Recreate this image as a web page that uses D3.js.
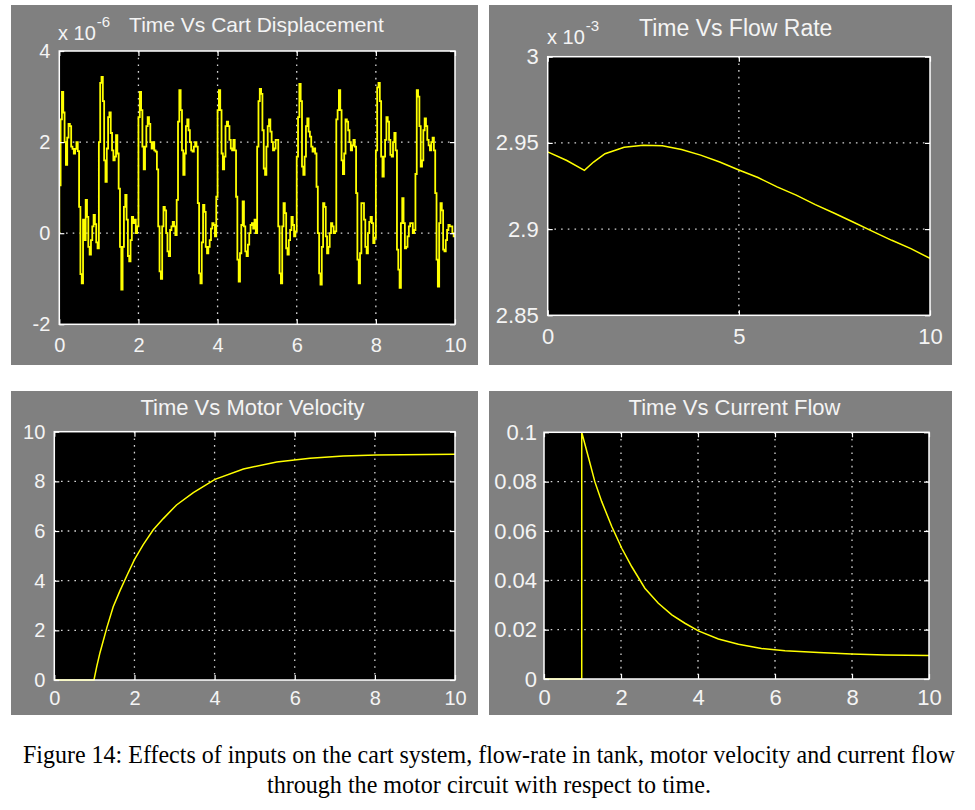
<!DOCTYPE html>
<html>
<head>
<meta charset="utf-8">
<script src="https://cdn.jsdelivr.net/npm/d3@7"></script>
<style>
  html, body { margin: 0; padding: 0; background: #ffffff; }
  svg { display: block; }
</style>
</head>
<body>
<svg id="fig" width="975" height="810"></svg>
<script>
// ---------------- DATA ----------------
// Cart displacement (x 1e-6), sampled every 1/30 s, read period by period (t = 0..10 s)
const cartSampleStep = 1 / 30;
const cartInitial = 0;
const cartDisplacement = [
  // 0 - 1 s
  1.05, 2.5, 3.1, 2.65, 2.0, 1.5, 2.1, 2.4, 2.35, 1.9, 1.85, 1.75, 1.85, 2.0, 1.8,
  0.58, -0.9, -1.1, 0.3, -0.15, 0.73, 0.36, -0.3, -0.47, -0.15, 0.15, 0.4, 0.2, -0.2, -0.33,
  // 1 - 2 s
  2.0, 3.3, 3.43, 2.9, 1.6, 1.13, 1.86, 2.55, 2.65, 2.2, 1.82, 1.6, 1.68, 2.15, 1.75,
  0.98, -0.3, -1.24, -0.3, 0.58, 0.84, 0.3, -0.5, -0.62, -0.15, 0.36, 0.22, 0.3, 0, 0.15,
  // 2 - 3 s
  2.55, 3.1, 2.7, 1.9, 1.4, 1.9, 2.35, 2.55, 2.4, 2.0, 1.86, 2.0, 1.82, 1.79, 1.4,
  0.15, -0.84, -1.0, 0.15, 0.58, 0.5, 0, -0.4, -0.5, 0.07, 0.15, 0.25, 0.15, -0.04, 0.73,
  // 3 - 4 s
  2.45, 3.14, 2.7, 1.82, 1.28, 1.75, 2.35, 2.5, 2.26, 2.0, 1.82, 1.79, 1.9, 2.0, 1.9,
  0.66, -0.88, -1.1, -0.2, 0.62, 0.47, -0.3, -0.44, -0.3, -0.15, 0.1, 0.22, 0.18, -0.07, 0.8,
  // 4 - 5 s
  2.7, 3.14, 2.7, 1.75, 1.4, 1.68, 2.35, 2.45, 2.35, 2.05, 1.86, 1.82, 2.05, 1.82, 0.8,
  -0.58, -1.06, -0.44, 0.18, 0.7, 0.15, -0.4, -0.5, -0.25, 0, 0.18, 0.22, 0.1, 0.3, 0.0,
  // 5 - 6 s
  1.9, 2.9, 3.17, 3.06, 2.26, 1.42, 1.28, 1.9, 2.35, 2.5, 2.23, 2.0, 1.82, 1.86, 2.05,
  2.05, 0.15, -0.88, -1.1, 0.15, 0.66, 0.44, -0.33, -0.47, -0.15, 0.07, 0.36, 0.18, -0.07, 0.04,
  // 6 - 7 s
  1.68, 2.55, 3.28, 2.9, 1.46, 1.28, 1.68, 2.35, 2.52, 2.23, 2.12, 1.9, 1.79, 1.86, 1.75,
  1.02, 0, -0.88, -1.13, -0.3, 0.66, 0.58, -0.07, -0.44, -0.3, 0, 0.22, 0.15, 0, 0.04,
  // 7 - 8 s
  2.5, 2.7, 3.14, 2.7, 1.6, 1.3, 1.75, 2.5, 2.45, 2.26, 2.0, 1.82, 1.93, 2.05, 1.9,
  0.88, -0.58, -1.1, -0.44, 0.66, 0.66, 0.3, -0.3, -0.44, 0, 0.25, 0.36, 0.22, -0.22, -0.1,
  // 8 - 9 s
  1.82, 3.2, 3.3, 2.9, 1.68, 1.24, 1.68, 2.05, 2.55, 2.45, 2.05, 1.72, 1.68, 2.0, 2.2,
  1.82, -0.36, -0.8, -1.2, 0.22, 0.77, 0.22, -0.33, -0.3, -0.07, 0.15, 0.22, 0.22, 0, 0.07,
  // 9 - 10 s
  1.3, 3.14, 3.0, 2.35, 1.46, 1.6, 2.26, 2.52, 2.35, 2.05, 1.93, 1.82, 2.0, 2.1, 1.82,
  0.88, -0.58, -1.17, 0.22, 0.66, 0.5, -0.36, -0.4, -0.15, 0.07, 0.18, 0.15, 0.15, 0, -0.07
];

// Flow rate (x 1e-3)
const flowTime = [0, 0.5, 0.96, 1.2, 1.5, 2.0, 2.5, 3.0, 3.5, 4.0, 4.5, 5.0, 5.5, 6.0, 6.5, 7.0, 7.5, 8.0, 8.5, 9.0, 9.5, 10];
const flowRate = [2.9448, 2.9398, 2.9341, 2.9389, 2.9437, 2.9475, 2.9487, 2.9483, 2.9462, 2.9429, 2.9389,
                  2.9343, 2.9299, 2.9245, 2.9197, 2.9142, 2.9092, 2.9040, 2.8987, 2.8935, 2.8887, 2.8830];

// Motor velocity
const velocityTime = [0, 0.99, 1.06, 1.14, 1.31, 1.47, 1.64, 1.81, 2.0, 2.22, 2.47, 2.72, 3.05, 3.47, 4.01, 4.72, 5.55, 6.38, 7.21, 8.04, 10];
const motorVelocity = [0, 0, 0.55, 1.1, 2.1, 2.95, 3.6, 4.2, 4.85, 5.45, 6.05, 6.5, 7.05, 7.55, 8.08, 8.5, 8.78, 8.93, 9.02, 9.06, 9.09];

// Current flow
const currentTime = [0, 0.98, 0.98, 1.15, 1.32, 1.5, 1.76, 2.02, 2.28, 2.62, 2.97, 3.32, 3.66, 4.01, 4.53, 5.05, 5.65, 6.26, 7.13, 7.99, 8.86, 10];
const currentFlow = [0, 0, 0.1, 0.0901, 0.08, 0.0719, 0.0618, 0.053, 0.0455, 0.0368, 0.0307, 0.026, 0.0226, 0.0195,
                     0.0162, 0.0141, 0.0124, 0.0115, 0.0107, 0.0101, 0.0097, 0.0095];

// Ticks and labels
const cartXTicks = [0, 2, 4, 6, 8, 10];
const cartYTicks = [-2, 0, 2, 4];
const flowXTicks = [0, 5, 10];
const flowYTicks = [2.85, 2.9, 2.95, 3];
const velXTicks = [0, 2, 4, 6, 8, 10];
const velYTicks = [0, 2, 4, 6, 8, 10];
const curXTicks = [0, 2, 4, 6, 8, 10];
const curYTicks = [0, 0.02, 0.04, 0.06, 0.08, 0.1];

const titles = ["Time Vs Cart Displacement", "Time Vs Flow Rate", "Time Vs Motor Velocity", "Time Vs Current Flow"];
const exponents = ["-6", "-3"];
const captionLines = [
  "Figure 14: Effects of inputs on the cart system, flow-rate in tank, motor velocity and current flow",
  "through the motor circuit with respect to time."
];

// ---------------- DRAWING ----------------
const svg = d3.select("#fig");
const SANS = "'Liberation Sans', Arial, Helvetica, sans-serif";
const TXT = "#f4f4f4";

function drawPanel(o, idx) {
  const g = svg.append("g");
  g.append("rect").attr("x", o.bg[0]).attr("y", o.bg[1]).attr("width", o.bg[2]).attr("height", o.bg[3])
    .attr("fill", "#808080");

  const x = d3.scaleLinear().domain(o.xDomain).range([o.plot.l, o.plot.r]);
  const y = d3.scaleLinear().domain(o.yDomain).range([o.plot.b, o.plot.t]);

  g.append("rect").attr("x", o.plot.l).attr("y", o.plot.t)
    .attr("width", o.plot.r - o.plot.l).attr("height", o.plot.b - o.plot.t).attr("fill", "#000");

  // grid (dotted)
  const gridStyle = sel => sel.attr("stroke", "#d4d4d4").attr("stroke-width", 1.3)
    .attr("stroke-dasharray", "1.6,5.1").attr("fill", "none");
  const dx = x.domain(), dy = y.domain();
  g.append("g").selectAll("line").data(o.xTicks.filter(v => v > dx[0] && v < dx[1])).join("line")
    .attr("x1", d => x(d)).attr("x2", d => x(d)).attr("y1", o.plot.t).attr("y2", o.plot.b).call(gridStyle);
  g.append("g").selectAll("line").data(o.yTicks.filter(v => v > dy[0] && v < dy[1])).join("line")
    .attr("x1", o.plot.l).attr("x2", o.plot.r).attr("y1", d => y(d)).attr("y2", d => y(d)).call(gridStyle);

  // series
  const clipId = "clip" + idx;
  g.append("clipPath").attr("id", clipId).append("rect")
    .attr("x", o.plot.l).attr("y", o.plot.t - 1).attr("width", o.plot.r - o.plot.l).attr("height", o.plot.b - o.plot.t + 2);
  const line = d3.line().x(d => x(d[0])).y(d => y(d[1])).curve(o.curve || d3.curveLinear);
  g.append("path").datum(o.points).attr("d", line).attr("fill", "none")
    .attr("stroke", "#ffff00").attr("stroke-width", o.lineWidth || 1.5).attr("stroke-linejoin", "miter")
    .attr("clip-path", `url(#${clipId})`);

  // axes
  const styleAxis = (sel, fs) => {
    sel.select(".domain").remove();
    sel.selectAll(".tick line").attr("stroke", "#ffffff").attr("stroke-width", 1.2);
    sel.selectAll(".tick text").attr("fill", TXT).style("font-family", SANS).style("font-size", fs + "px");
  };
  g.append("g").attr("transform", `translate(0,${o.plot.b})`)
    .call(d3.axisBottom(x).tickValues(o.xTicks).tickFormat(o.xFormat).tickSize(-5).tickPadding(o.xPad))
    .call(s => styleAxis(s, o.tickFont));
  g.append("g").attr("transform", `translate(${o.plot.l},0)`)
    .call(d3.axisLeft(y).tickValues(o.yTicks).tickFormat(o.yFormat).tickSize(-5).tickPadding(o.yPad))
    .call(s => styleAxis(s, o.tickFont));
  g.append("g").attr("transform", `translate(0,${o.plot.t})`)
    .call(d3.axisTop(x).tickValues(o.xTicks).tickFormat("").tickSize(-5))
    .call(s => styleAxis(s, o.tickFont));
  g.append("g").attr("transform", `translate(${o.plot.r},0)`)
    .call(d3.axisRight(y).tickValues(o.yTicks).tickFormat("").tickSize(-5))
    .call(s => styleAxis(s, o.tickFont));

  // box
  g.append("rect").attr("x", o.plot.l).attr("y", o.plot.t)
    .attr("width", o.plot.r - o.plot.l).attr("height", o.plot.b - o.plot.t)
    .attr("fill", "none").attr("stroke", "#ffffff").attr("stroke-width", 1.5);

  // title
  g.append("text").attr("x", o.title.x).attr("y", o.title.y).attr("text-anchor", "middle")
    .attr("fill", TXT).style("font-family", SANS).style("font-size", o.title.fs + "px").text(o.title.text);

  // exponent
  if (o.exp) {
    const t = g.append("text").attr("x", o.exp.x).attr("y", o.exp.y).attr("fill", TXT)
      .style("font-family", SANS).style("font-size", "20px");
    t.append("tspan").text("x 10");
    t.append("tspan").attr("dx", 1).attr("dy", -13).style("font-size", "15px").text(o.exp.text);
  }
}

const fmtPlain = d => String(d);

const cartPoints = [[0, cartInitial]].concat(cartDisplacement.map((v, i) => [i * cartSampleStep, v]));
cartPoints.push([10, cartDisplacement[cartDisplacement.length - 1]]);

drawPanel({
  bg: [11, 5, 467, 360],
  plot: { l: 59.3, r: 455, t: 51, b: 324.3 },
  xDomain: [0, 10], yDomain: [-2, 4],
  xTicks: cartXTicks, yTicks: cartYTicks, xFormat: fmtPlain, yFormat: fmtPlain,
  tickFont: 20, xPad: 14, yPad: 9,
  points: cartPoints, curve: d3.curveStepAfter, lineWidth: 1.8,
  title: { x: 256.5, y: 32, fs: 21, text: titles[0] },
  exp: { x: 58, y: 39.5, text: exponents[0] }
}, 0);

drawPanel({
  bg: [489, 5, 463, 360],
  plot: { l: 547.7, r: 930, t: 56.7, b: 315.3 },
  xDomain: [0, 10], yDomain: [2.85, 3],
  xTicks: flowXTicks, yTicks: flowYTicks, xFormat: fmtPlain, yFormat: fmtPlain,
  tickFont: 22, xPad: 13, yPad: 9,
  points: flowTime.map((t, i) => [t, flowRate[i]]), lineWidth: 1.5,
  title: { x: 735.7, y: 36, fs: 23, text: titles[1] },
  exp: { x: 547, y: 44, text: exponents[1] }
}, 1);

drawPanel({
  bg: [11, 391, 467, 324],
  plot: { l: 54.3, r: 455, t: 431.7, b: 680 },
  xDomain: [0, 10], yDomain: [0, 10],
  xTicks: velXTicks, yTicks: velYTicks, xFormat: fmtPlain, yFormat: fmtPlain,
  tickFont: 20, xPad: 11, yPad: 9,
  points: velocityTime.map((t, i) => [t, motorVelocity[i]]), lineWidth: 1.5,
  title: { x: 252.5, y: 415, fs: 22, text: titles[2] }
}, 2);

drawPanel({
  bg: [489, 391, 463, 324],
  plot: { l: 544, r: 929, t: 432.3, b: 679 },
  xDomain: [0, 10], yDomain: [0, 0.1],
  xTicks: curXTicks, yTicks: curYTicks, xFormat: fmtPlain, yFormat: fmtPlain,
  tickFont: 22, xPad: 10, yPad: 7,
  points: currentTime.map((t, i) => [t, currentFlow[i]]), lineWidth: 1.5,
  title: { x: 734.5, y: 415, fs: 22, text: titles[3] }
}, 3);

// caption: slightly condensed serif, stretched vertically like the reference
const SERIF = "'Liberation Serif', 'Times New Roman', Times, serif";
const cap1 = svg.append("g").attr("transform", "translate(23,763) scale(1,1.13)");
cap1.append("text").attr("x", 0).attr("y", 0).attr("textLength", 932).attr("lengthAdjust", "spacingAndGlyphs")
  .attr("fill", "#000").style("font-family", SERIF).style("font-size", "22px").text(captionLines[0]);
const cap2 = svg.append("g").attr("transform", "translate(267,793) scale(1,1.13)");
cap2.append("text").attr("x", 0).attr("y", 0).attr("textLength", 444).attr("lengthAdjust", "spacingAndGlyphs")
  .attr("fill", "#000").style("font-family", SERIF).style("font-size", "22px").text(captionLines[1]);
</script>
</body>
</html>
